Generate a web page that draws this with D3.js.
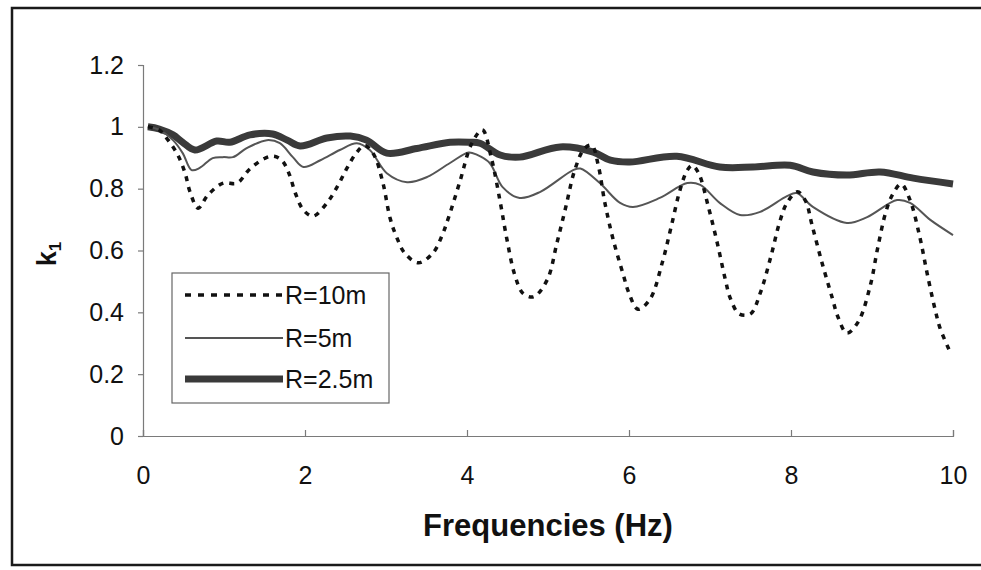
<!DOCTYPE html>
<html>
<head>
<meta charset="utf-8">
<script src="https://cdn.jsdelivr.net/npm/d3@7"></script>
<style>
  body { margin: 0; background: #fff; }
  svg { display: block; font-family: "Liberation Sans", Arial, sans-serif; }
</style>
</head>
<body>
<svg id="chart" width="981" height="570"></svg>
<script>
// tick values
var xTicks = [0, 2, 4, 6, 8, 10];
var yTicks = [0, 0.2, 0.4, 0.6, 0.8, 1, 1.2];

// R = 10 m (dashed)
var freq10 = [0.06, 0.2, 0.31, 0.43, 0.52, 0.58, 0.68, 0.8, 0.99, 1.16, 1.32, 1.51, 1.62, 1.72, 1.81, 1.88, 1.98, 2.1, 2.28, 2.41, 2.52, 2.64, 2.74, 2.85, 2.96, 3.05, 3.13, 3.23, 3.4, 3.58, 3.69, 3.77, 3.91, 4.06, 4.19, 4.3, 4.41, 4.49, 4.59, 4.69, 4.82, 4.99, 5.11, 5.22, 5.33, 5.45, 5.54, 5.62, 5.7, 5.8, 5.93, 6.0, 6.11, 6.26, 6.41, 6.52, 6.63, 6.72, 6.78, 6.86, 6.98, 7.09, 7.19, 7.25, 7.36, 7.5, 7.62, 7.75, 7.86, 7.95, 8.08, 8.18, 8.26, 8.38, 8.51, 8.58, 8.69, 8.83, 8.98, 9.07, 9.17, 9.25, 9.36, 9.47, 9.59, 9.68, 9.78, 9.84, 9.95];
var k10 = [1.0, 0.99, 0.957, 0.909, 0.85, 0.79, 0.737, 0.779, 0.818, 0.818, 0.864, 0.899, 0.905, 0.89, 0.844, 0.786, 0.731, 0.711, 0.757, 0.812, 0.867, 0.918, 0.94, 0.91, 0.821, 0.705, 0.644, 0.592, 0.56, 0.592, 0.647, 0.705, 0.821, 0.947, 0.99, 0.9, 0.757, 0.64, 0.521, 0.462, 0.45, 0.505, 0.624, 0.741, 0.86, 0.93, 0.94, 0.876, 0.757, 0.64, 0.521, 0.462, 0.41, 0.443, 0.56, 0.676, 0.796, 0.86, 0.875, 0.85, 0.741, 0.624, 0.505, 0.446, 0.395, 0.395, 0.462, 0.579, 0.692, 0.754, 0.79, 0.76, 0.682, 0.563, 0.446, 0.385, 0.333, 0.369, 0.488, 0.608, 0.724, 0.779, 0.815, 0.763, 0.644, 0.527, 0.408, 0.349, 0.28];

// R = 5 m (thin solid)
var freq5 = [0.06, 0.2, 0.37, 0.49, 0.6, 0.7, 0.86, 0.99, 1.11, 1.28, 1.53, 1.69, 1.85, 1.98, 2.19, 2.43, 2.64, 2.8, 3.01, 3.26, 3.51, 3.79, 4.02, 4.12, 4.28, 4.44, 4.65, 4.9, 5.31, 5.4, 5.64, 5.89, 6.05, 6.38, 6.72, 6.88, 7.12, 7.37, 7.62, 7.95, 8.07, 8.27, 8.69, 8.94, 9.31, 9.47, 9.72, 10];
var k5 = [1.0, 0.99, 0.957, 0.915, 0.86, 0.867, 0.899, 0.902, 0.902, 0.931, 0.957, 0.947, 0.902, 0.87, 0.892, 0.925, 0.947, 0.925, 0.85, 0.821, 0.838, 0.883, 0.917, 0.91, 0.883, 0.805, 0.77, 0.789, 0.86, 0.865, 0.818, 0.754, 0.741, 0.77, 0.818, 0.812, 0.754, 0.715, 0.725, 0.776, 0.786, 0.741, 0.689, 0.708, 0.763, 0.754, 0.699, 0.65];

// R = 2.5 m (thick solid)
var freq25 = [0.06, 0.2, 0.37, 0.49, 0.64, 0.91, 1.07, 1.32, 1.6, 1.78, 1.94, 2.27, 2.56, 2.76, 3.01, 3.38, 3.79, 4.04, 4.16, 4.41, 4.65, 5.15, 5.56, 5.77, 6.01, 6.59, 7.12, 7.53, 7.99, 8.27, 8.69, 9.1, 9.51, 10];
var k25 = [1.0, 0.993, 0.974, 0.95, 0.925, 0.954, 0.95, 0.974, 0.977, 0.957, 0.938, 0.964, 0.97, 0.957, 0.915, 0.93, 0.95, 0.95, 0.947, 0.909, 0.902, 0.935, 0.918, 0.892, 0.886, 0.905, 0.87, 0.87, 0.876, 0.854, 0.844, 0.854, 0.834, 0.815];

var seriesNames = ['R=10m', 'R=5m', 'R=2.5m'];

var svg = d3.select('#chart');

// outer frame of the figure (right side runs off the picture)
svg.append('rect')
    .attr('x', 12).attr('y', 8)
    .attr('width', 1000).attr('height', 557)
    .attr('fill', 'none')
    .attr('stroke', '#1a1a1a')
    .attr('stroke-width', 2.5);

var x = d3.scaleLinear().domain([0, 10]).range([143, 953]);
var y = d3.scaleLinear().domain([0, 1.2]).range([436, 65]);

// y axis, ticks outside
svg.append('g')
    .attr('transform', 'translate(143,0)')
    .call(d3.axisLeft(y).tickValues(yTicks).tickSize(5).tickPadding(14)
        .tickFormat(function(d) { return String(+d.toFixed(1)); }));

// x axis, ticks pointing up into the plot
svg.append('g')
    .attr('transform', 'translate(0,436)')
    .call(d3.axisBottom(x).tickValues(xTicks).tickSize(-6).tickPadding(30));

svg.selectAll('.domain, .tick line')
    .attr('stroke', '#7a7a7a')
    .attr('stroke-width', 1.2);
svg.selectAll('.tick text')
    .attr('fill', '#111')
    .style('font-size', '25px');

// axis titles
svg.append('text')
    .attr('x', 548).attr('y', 536)
    .attr('text-anchor', 'middle')
    .style('font-size', '31px')
    .style('font-weight', 'bold')
    .attr('fill', '#111')
    .text('Frequencies (Hz)');

var yTitle = svg.append('text')
    .attr('transform', 'translate(56,254) rotate(-90)')
    .attr('text-anchor', 'middle')
    .style('font-weight', 'bold')
    .attr('fill', '#111');
yTitle.append('tspan').style('font-size', '27px').text('k');
yTitle.append('tspan').style('font-size', '17px').attr('dy', 5).text('1');

var line = d3.line()
    .x(function(d) { return x(d[0]); })
    .y(function(d) { return y(d[1]); })
    .curve(d3.curveCatmullRom.alpha(0.5));

var styles = [
    {stroke: '#111', width: 3.5, dash: '5,6'},
    {stroke: '#555', width: 2, dash: null},
    {stroke: '#3a3a3a', width: 7, dash: null}
];

var data = [
    d3.zip(freq10, k10),
    d3.zip(freq5, k5),
    d3.zip(freq25, k25)
];

// draw thick first so the dashed one sits on top
[2, 1, 0].forEach(function(i) {
    svg.append('path')
        .datum(data[i])
        .attr('fill', 'none')
        .attr('stroke', styles[i].stroke)
        .attr('stroke-width', styles[i].width)
        .attr('stroke-dasharray', styles[i].dash)
        .attr('d', line);
});

// legend
var legend = svg.append('g');
legend.append('rect')
    .attr('x', 172).attr('y', 273)
    .attr('width', 217).attr('height', 130)
    .attr('fill', '#fff')
    .attr('stroke', '#666')
    .attr('stroke-width', 1.2);

var rowY = [295, 338, 379];
seriesNames.forEach(function(name, i) {
    legend.append('line')
        .attr('x1', 185).attr('x2', 283)
        .attr('y1', rowY[i]).attr('y2', rowY[i])
        .attr('stroke', styles[i].stroke)
        .attr('stroke-width', styles[i].width)
        .attr('stroke-dasharray', styles[i].dash ? '6,7' : null);
    legend.append('text')
        .attr('x', 285).attr('y', rowY[i] + 9)
        .style('font-size', '25px')
        .attr('fill', '#111')
        .text(name);
});
</script>
</body>
</html>
